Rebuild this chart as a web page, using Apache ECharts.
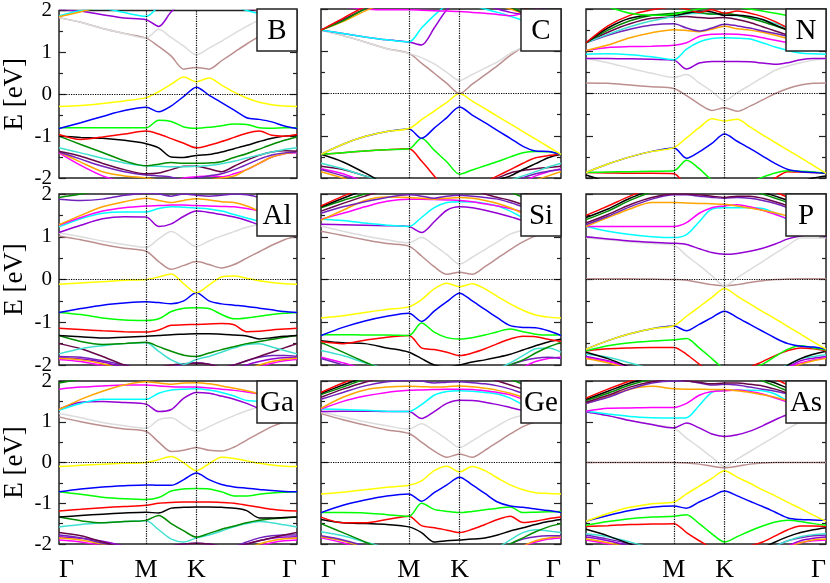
<!DOCTYPE html>
<html>
<head>
<meta charset="utf-8">
<script src="https://cdn.jsdelivr.net/npm/echarts@6/dist/echarts.min.js"></script>
<style>
  html, body { margin: 0; background: #fff; }
  #main { width: 830px; height: 583px; }
</style>
</head>
<body>
<div id="main"></div>
<script>
// k-path sample points: Γ -> M (1/√3), M -> K (+1/3), K -> Γ (+2/3)
const kGrid = [0, 0.1443, 0.2887, 0.4330, 0.5774, 0.6607, 0.7440, 0.8274, 0.9107,
  0.9940, 1.0774, 1.1607, 1.2440, 1.3274, 1.4107, 1.4940, 1.5774];
const kTicks = [0, 0.5774, 0.9107, 1.5774];
const kLabels = ['Γ', 'M', 'K', 'Γ'];
const panelNames = ['B', 'C', 'N', 'Al', 'Si', 'P', 'Ga', 'Ge', 'As'];

// bands per panel (eV at each kGrid point)
const bandsB = {
  magenta_lo: [-1.4,-1.7,-1.95,-2.1,-2.2,-2.2,-2.1,-2.0,-1.97,-1.95,-1.97,-1.9,-1.8,-1.65,-1.5,-1.42,-1.4],
  orange_lo: [-1.38,-1.62,-1.85,-1.95,-2.0,-2.05,-2.1,-2.1,-2.1,-2.05,-2.0,-1.95,-1.8,-1.65,-1.5,-1.42,-1.38],
  indigo_lo: [-1.38,-1.55,-1.72,-1.85,-1.93,-1.95,-1.98,-2.05,-2.0,-1.95,-1.9,-1.8,-1.68,-1.55,-1.45,-1.4,-1.38],
  maroon_lo: [-1.36,-1.48,-1.65,-1.8,-1.9,-1.88,-1.8,-1.72,-1.72,-1.78,-1.85,-1.72,-1.58,-1.46,-1.38,-1.35,-1.36],
  turq_lo: [-1.28,-1.4,-1.53,-1.64,-1.71,-1.72,-1.73,-1.73,-1.72,-1.7,-1.66,-1.6,-1.52,-1.45,-1.38,-1.32,-1.28],
  green4_lo: [-1.0,-1.2,-1.39,-1.59,-1.71,-1.67,-1.63,-1.65,-1.65,-1.64,-1.61,-1.51,-1.42,-1.31,-1.2,-1.1,-1.02],
  black: [-1.0,-1.03,-1.05,-1.1,-1.18,-1.28,-1.5,-1.51,-1.46,-1.44,-1.38,-1.3,-1.22,-1.13,-1.05,-1.0,-0.98],
  red: [-0.96,-1.08,-1.02,-0.95,-0.88,-0.95,-1.06,-1.17,-1.28,-1.22,-1.13,-1.03,-0.93,-0.88,-0.98,-1.0,-0.96],
  green: [-0.8,-0.8,-0.8,-0.8,-0.8,-0.62,-0.65,-0.78,-0.81,-0.79,-0.75,-0.71,-0.72,-0.8,-0.81,-0.8,-0.8],
  blue: [-0.82,-0.68,-0.53,-0.39,-0.31,-0.42,-0.28,-0.05,0.17,-0.02,-0.2,-0.38,-0.56,-0.6,-0.66,-0.76,-0.82],
  yellow: [-0.29,-0.27,-0.22,-0.16,-0.08,0.06,0.24,0.41,0.30,0.39,0.22,0.05,-0.09,-0.19,-0.25,-0.28,-0.29],
  brown: [1.83,1.72,1.57,1.45,1.34,1.14,0.91,0.6,0.64,0.6,0.8,1.0,1.2,1.38,1.55,1.72,1.83],
  grey: [1.83,1.72,1.57,1.45,1.34,1.55,1.35,1.15,0.94,1.1,1.27,1.45,1.62,1.77,1.83,1.84,1.83],
  violet: [2.03,1.98,1.9,1.82,1.78,1.62,1.97,2.2,2.4,2.3,2.2,2.1,2.05,2.0,1.95,1.9,1.85],
  cyan: [1.87,2.0,2.05,1.95,1.86,2.1,2.3,2.4,2.4,2.3,2.2,2.1,2.0,1.93,1.9,1.88,1.87],
  orange: [1.85,1.97,2.1,2.2,2.2,2.3,2.3,2.3,2.3,2.3,2.3,2.2,2.1,2.0,1.95,1.9,1.85]
};
const bandsC = {
  orange_lo: [-1.85,-2.0,-2.2,-2.3,-2.3,-2.3,-2.3,-2.3,-2.3,-2.3,-2.3,-2.3,-2.3,-2.2,-2.05,-1.95,-1.85],
  magenta_lo: [-1.78,-1.9,-2.1,-2.3,-2.3,-2.3,-2.3,-2.3,-2.3,-2.3,-2.3,-2.3,-2.3,-2.1,-1.95,-1.85,-1.78],
  indigo_lo: [-1.8,-1.95,-2.1,-2.3,-2.3,-2.3,-2.3,-2.3,-2.3,-2.3,-2.3,-2.3,-2.2,-2.0,-1.9,-1.84,-1.8],
  maroon_lo: [-1.72,-1.8,-1.95,-2.1,-2.2,-2.2,-2.2,-2.2,-2.2,-2.2,-2.1,-2.0,-1.88,-1.82,-1.78,-1.75,-1.72],
  turq_lo: [-1.65,-1.78,-1.95,-2.1,-2.3,-2.3,-2.3,-2.3,-2.3,-2.3,-2.3,-2.2,-2.05,-1.95,-1.85,-1.74,-1.65],
  black: [-1.44,-1.62,-1.88,-2.15,-2.3,-2.4,-2.5,-2.5,-2.5,-2.4,-2.2,-2.05,-1.95,-1.8,-1.66,-1.52,-1.44],
  red: [-1.44,-1.4,-1.36,-1.33,-1.31,-1.6,-1.95,-2.3,-2.5,-2.3,-2.1,-1.95,-1.8,-1.65,-1.52,-1.47,-1.44],
  green: [-1.44,-1.4,-1.36,-1.33,-1.31,-1.06,-1.34,-1.62,-1.91,-1.81,-1.71,-1.61,-1.5,-1.4,-1.37,-1.38,-1.44],
  blue: [-1.44,-1.2,-1.02,-0.9,-0.84,-1.06,-0.82,-0.57,-0.32,-0.51,-0.69,-0.88,-1.06,-1.25,-1.36,-1.37,-1.44],
  yellow: [-1.44,-1.2,-1.02,-0.9,-0.83,-0.62,-0.415,-0.21,0,-0.18,-0.36,-0.54,-0.72,-0.9,-1.08,-1.26,-1.44],
  brown: [1.5,1.37,1.22,1.06,0.95,0.72,0.48,0.24,0,0.22,0.44,0.66,0.9,1.1,1.25,1.38,1.5],
  grey: [1.5,1.37,1.22,1.06,0.95,0.85,0.7,0.5,0.31,0.45,0.6,0.75,0.95,1.1,1.25,1.38,1.5],
  violet: [1.5,1.42,1.34,1.27,1.22,1.15,1.55,1.98,2.2,2.2,2.1,2.0,1.92,1.88,1.95,2.05,2.2],
  cyan: [1.5,1.42,1.34,1.27,1.22,1.55,1.85,2.1,2.3,2.1,2.0,1.92,1.83,1.73,1.65,1.58,1.5],
  magenta: [2.1,2.05,2.0,1.98,1.98,1.97,1.96,1.95,1.94,1.92,1.9,1.87,1.84,1.9,2.0,2.1,2.2],
  orange: [1.5,1.7,1.95,2.15,2.2,2.2,2.2,2.2,2.2,2.2,2.2,2.1,2.0,1.9,1.78,1.65,1.5],
  maroon: [1.5,1.75,2.0,2.2,2.3,2.3,2.3,2.3,2.3,2.3,2.3,2.2,2.05,1.9,1.75,1.62,1.5],
  green4: [1.5,1.72,2.0,2.2,2.3,2.3,2.3,2.3,2.3,2.3,2.3,2.2,2.05,1.92,1.8,1.65,1.5],
  red_hi: [1.5,1.78,2.05,2.2,2.3,2.3,2.3,2.3,2.3,2.3,2.3,2.3,2.2,2.05,1.9,1.7,1.5]
};
const bandsN = {
  black: [-1.93,-2.1,-2.3,-2.4,-2.5,-2.5,-2.5,-2.5,-2.5,-2.5,-2.5,-2.5,-2.4,-2.3,-2.1,-2.0,-1.95],
  red: [-1.87,-1.88,-1.89,-1.89,-1.9,-2.2,-2.4,-2.5,-2.5,-2.5,-2.4,-2.2,-2.0,-1.85,-1.86,-1.87,-1.89],
  green: [-1.87,-1.86,-1.85,-1.84,-1.83,-1.58,-1.78,-2.05,-2.2,-2.2,-2.1,-1.98,-1.88,-1.83,-1.84,-1.86,-1.89],
  blue: [-1.87,-1.67,-1.5,-1.37,-1.29,-1.53,-1.38,-1.18,-0.96,-1.13,-1.3,-1.48,-1.66,-1.8,-1.85,-1.87,-1.89],
  yellow: [-1.87,-1.67,-1.5,-1.37,-1.28,-1.05,-0.81,-0.6,-0.65,-0.61,-0.79,-0.98,-1.16,-1.34,-1.52,-1.7,-1.89],
  brown: [0.25,0.24,0.2,0.16,0.12,-0.05,-0.25,-0.4,-0.34,-0.42,-0.3,-0.15,0.0,0.12,0.2,0.24,0.25],
  grey: [0.83,0.73,0.6,0.48,0.38,0.45,0.25,0.05,-0.17,0.02,0.2,0.38,0.55,0.65,0.73,0.79,0.83],
  violet: [0.83,0.83,0.82,0.81,0.79,0.58,0.72,0.76,0.76,0.76,0.75,0.72,0.69,0.73,0.8,0.83,0.83],
  cyan: [0.93,0.94,0.92,0.87,0.8,1.05,1.22,1.3,1.32,1.31,1.29,1.2,1.1,1.02,0.96,0.94,0.93],
  magenta: [1.02,1.09,1.11,1.12,1.14,1.2,1.35,1.4,1.41,1.4,1.37,1.32,1.26,1.2,1.14,1.08,1.02],
  orange: [1.02,1.15,1.32,1.44,1.51,1.49,1.46,1.52,1.59,1.53,1.5,1.45,1.38,1.3,1.2,1.12,1.02],
  indigo: [1.2,1.38,1.52,1.62,1.65,1.55,1.48,1.55,1.64,1.6,1.55,1.48,1.42,1.35,1.28,1.22,1.2],
  maroon: [1.2,1.45,1.65,1.78,1.81,1.82,1.8,1.78,1.8,1.75,1.68,1.58,1.48,1.38,1.3,1.24,1.2],
  turq: [1.2,1.4,1.58,1.72,1.82,1.88,1.9,1.88,1.86,1.84,1.8,1.74,1.66,1.55,1.45,1.32,1.2],
  green4: [1.2,1.5,1.72,1.85,1.9,1.93,1.92,1.88,1.9,1.85,1.78,1.7,1.6,1.5,1.4,1.28,1.2],
  black_hi: [1.2,1.55,1.78,1.85,1.85,1.9,1.95,1.93,1.85,1.85,1.82,1.75,1.62,1.5,1.4,1.28,1.2],
  red_hi: [1.2,1.6,1.85,1.98,2.05,2.0,1.92,1.98,1.9,1.95,1.9,1.82,1.7,1.55,1.4,1.28,1.2],
  green_hi: [2.2,2.05,1.9,1.85,1.87,1.95,2.0,2.05,2.1,2.05,2.0,1.95,1.9,1.85,1.85,1.9,2.0]
};
const bandsAl = {
  magenta_lo: [-1.87,-1.92,-2.02,-2.15,-2.2,-2.2,-2.2,-2.2,-2.2,-2.2,-2.2,-2.2,-2.15,-2.05,-1.96,-1.9,-1.87],
  orange_lo: [-1.84,-1.88,-1.97,-2.1,-2.2,-2.2,-2.2,-2.2,-2.2,-2.2,-2.2,-2.2,-2.1,-2.0,-1.92,-1.87,-1.84],
  violet_lo: [-1.83,-1.86,-1.93,-2.05,-2.15,-2.2,-2.2,-2.2,-2.2,-2.2,-2.2,-2.1,-2.0,-1.92,-1.86,-1.83,-1.83],
  indigo_lo: [-1.8,-1.82,-1.9,-2.0,-2.1,-2.1,-2.05,-1.98,-1.95,-1.98,-2.05,-2.0,-1.9,-1.82,-1.78,-1.78,-1.8],
  maroon_lo: [-1.5,-1.62,-1.8,-2.0,-2.1,-2.05,-2.0,-1.97,-1.96,-1.98,-2.05,-2.0,-1.9,-1.8,-1.7,-1.6,-1.5],
  turq_lo: [-1.74,-1.62,-1.55,-1.5,-1.48,-1.68,-1.88,-1.98,-1.87,-1.8,-1.7,-1.6,-1.52,-1.5,-1.58,-1.66,-1.74],
  green4_lo: [-1.31,-1.45,-1.52,-1.5,-1.47,-1.57,-1.68,-1.77,-1.8,-1.72,-1.64,-1.57,-1.5,-1.45,-1.4,-1.35,-1.31],
  black: [-1.31,-1.34,-1.37,-1.35,-1.33,-1.31,-1.29,-1.28,-1.27,-1.27,-1.28,-1.3,-1.32,-1.39,-1.36,-1.33,-1.31],
  red: [-1.14,-1.17,-1.2,-1.22,-1.23,-1.18,-1.07,-1.06,-1.05,-1.04,-1.03,-1.06,-1.22,-1.21,-1.18,-1.16,-1.14],
  green: [-0.77,-0.82,-0.9,-0.95,-0.96,-0.92,-0.75,-0.67,-0.66,-0.68,-0.82,-0.92,-0.9,-0.86,-0.82,-0.79,-0.77],
  blue: [-0.77,-0.68,-0.6,-0.55,-0.52,-0.54,-0.57,-0.5,-0.31,-0.5,-0.57,-0.6,-0.63,-0.67,-0.71,-0.75,-0.77],
  yellow: [-0.11,-0.08,-0.05,-0.02,0.0,0.06,0.13,-0.1,-0.31,-0.13,0.06,0.08,0.03,-0.03,-0.07,-0.1,-0.11],
  brown: [1.02,0.93,0.82,0.73,0.66,0.42,0.24,0.33,0.42,0.35,0.27,0.35,0.5,0.65,0.8,0.93,1.02],
  grey: [1.09,1.0,0.9,0.82,0.75,0.95,1.12,0.95,0.77,0.9,1.02,1.12,1.22,1.28,1.25,1.18,1.09],
  violet: [1.1,1.27,1.42,1.47,1.46,1.24,1.3,1.48,1.6,1.57,1.52,1.46,1.38,1.28,1.22,1.18,1.15],
  cyan: [1.23,1.42,1.55,1.58,1.58,1.66,1.7,1.69,1.67,1.65,1.6,1.52,1.44,1.36,1.3,1.26,1.23],
  magenta: [1.27,1.45,1.6,1.68,1.72,1.73,1.74,1.74,1.73,1.72,1.71,1.7,1.66,1.6,1.5,1.38,1.27],
  orange: [1.28,1.5,1.7,1.82,1.9,1.85,1.8,1.85,1.89,1.86,1.82,1.8,1.72,1.6,1.48,1.36,1.28],
  indigo: [1.88,1.85,1.88,1.97,2.02,2.0,1.95,2.0,1.97,1.95,1.97,2.0,1.98,1.92,1.85,1.86,1.88],
  green4: [1.92,2.0,2.1,2.2,2.3,2.3,2.3,2.3,2.3,2.3,2.3,2.3,2.2,2.1,2.0,1.95,1.92]
};
const bandsSi = {
  magenta_lo: [-1.82,-1.95,-2.1,-2.3,-2.3,-2.3,-2.3,-2.3,-2.3,-2.3,-2.3,-2.3,-2.2,-2.05,-1.92,-1.85,-1.82],
  indigo_lo: [-1.85,-2.0,-2.2,-2.3,-2.3,-2.3,-2.3,-2.3,-2.3,-2.3,-2.3,-2.2,-2.0,-1.9,-1.84,-1.82,-1.85],
  turq_lo: [-1.66,-1.78,-1.95,-2.1,-2.3,-2.3,-2.3,-2.3,-2.3,-2.3,-2.3,-2.1,-1.95,-1.78,-1.62,-1.6,-1.7],
  green4_lo: [-1.47,-1.7,-1.93,-2.15,-2.3,-2.3,-2.3,-2.3,-2.3,-2.3,-2.3,-2.2,-2.0,-1.88,-1.72,-1.58,-1.47],
  black: [-1.43,-1.48,-1.5,-1.6,-1.7,-1.85,-2.0,-2.05,-2.0,-1.93,-1.88,-1.82,-1.75,-1.65,-1.55,-1.46,-1.4],
  red: [-1.45,-1.5,-1.42,-1.35,-1.31,-1.6,-1.64,-1.7,-1.78,-1.72,-1.62,-1.5,-1.39,-1.33,-1.34,-1.4,-1.45],
  green: [-1.29,-1.29,-1.3,-1.3,-1.31,-1.02,-1.23,-1.36,-1.39,-1.36,-1.3,-1.22,-1.16,-1.22,-1.28,-1.3,-1.29],
  blue: [-1.31,-1.12,-0.97,-0.86,-0.79,-0.98,-0.74,-0.52,-0.32,-0.5,-0.7,-0.9,-1.08,-1.12,-1.13,-1.2,-1.31],
  yellow: [-0.9,-0.85,-0.77,-0.7,-0.64,-0.47,-0.22,-0.09,-0.17,-0.1,-0.22,-0.4,-0.57,-0.72,-0.83,-0.88,-0.9],
  brown: [1.13,1.03,0.93,0.84,0.78,0.55,0.3,0.12,0.17,0.12,0.3,0.5,0.7,0.88,1.02,1.1,1.13],
  grey: [1.25,1.13,1.02,0.93,0.86,0.98,0.8,0.58,0.36,0.52,0.7,0.88,1.06,1.15,1.2,1.23,1.25],
  violet: [1.29,1.28,1.27,1.26,1.24,1.1,1.35,1.62,1.7,1.68,1.62,1.55,1.47,1.38,1.32,1.3,1.29],
  cyan: [1.41,1.38,1.32,1.27,1.24,1.45,1.68,1.8,1.82,1.81,1.78,1.72,1.6,1.45,1.42,1.41,1.41],
  magenta: [1.41,1.55,1.7,1.83,1.88,1.88,1.87,1.86,1.85,1.82,1.77,1.72,1.66,1.58,1.5,1.45,1.41],
  orange: [1.39,1.62,1.85,1.93,1.92,1.9,1.88,1.9,1.92,1.9,1.85,1.78,1.68,1.55,1.45,1.4,1.39],
  indigo: [1.55,1.7,1.82,1.92,1.98,1.95,1.9,1.95,1.97,1.95,1.92,1.88,1.8,1.7,1.6,1.55,1.55],
  maroon: [1.6,1.78,1.95,2.1,2.2,2.2,2.2,2.2,2.2,2.1,2.0,1.92,1.85,1.75,1.68,1.62,1.6],
  green4: [1.68,1.85,2.0,2.15,2.3,2.3,2.3,2.3,2.3,2.3,2.3,2.2,2.05,1.92,1.8,1.72,1.68],
  black_hi: [1.7,1.9,2.1,2.3,2.3,2.3,2.3,2.3,2.3,2.3,2.3,2.3,2.2,2.05,1.9,1.78,1.7],
  red_hi: [1.72,1.95,2.15,2.3,2.3,2.3,2.3,2.3,2.3,2.3,2.3,2.3,2.3,2.1,1.95,1.82,1.72]
};
const bandsP = {
  magenta_lo: [-1.83,-1.92,-2.05,-2.2,-2.3,-2.3,-2.3,-2.3,-2.3,-2.3,-2.3,-2.3,-2.2,-2.05,-1.95,-1.88,-1.83],
  orange_lo: [-1.85,-1.95,-2.1,-2.3,-2.3,-2.3,-2.3,-2.3,-2.3,-2.3,-2.3,-2.3,-2.2,-2.1,-1.98,-1.9,-1.85],
  violet_lo: [-1.8,-1.9,-2.05,-2.2,-2.3,-2.3,-2.3,-2.3,-2.3,-2.3,-2.3,-2.3,-2.2,-2.05,-1.9,-1.84,-1.8],
  turq_lo: [-1.75,-1.82,-1.95,-2.1,-2.3,-2.3,-2.3,-2.3,-2.3,-2.3,-2.3,-2.2,-2.1,-2.0,-1.85,-1.8,-1.76],
  black: [-1.7,-1.85,-2.05,-2.2,-2.3,-2.3,-2.3,-2.3,-2.3,-2.3,-2.3,-2.3,-2.2,-2.0,-1.85,-1.75,-1.68],
  red: [-1.67,-1.62,-1.6,-1.59,-1.59,-1.75,-1.98,-2.2,-2.3,-2.2,-2.05,-1.92,-1.78,-1.66,-1.6,-1.62,-1.67],
  green: [-1.67,-1.55,-1.48,-1.44,-1.41,-1.38,-1.6,-1.85,-2.1,-2.2,-2.1,-1.98,-1.8,-1.63,-1.55,-1.6,-1.65],
  blue: [-1.63,-1.43,-1.27,-1.15,-1.09,-1.2,-1.05,-0.89,-0.74,-0.89,-1.05,-1.21,-1.37,-1.5,-1.56,-1.58,-1.63],
  yellow: [-1.63,-1.43,-1.27,-1.15,-1.08,-0.86,-0.64,-0.42,-0.21,-0.39,-0.57,-0.75,-0.92,-1.1,-1.28,-1.46,-1.63],
  brown: [0.02,0.02,0.02,0.01,0.0,-0.02,-0.07,-0.12,-0.15,-0.12,-0.07,-0.03,0.0,0.01,0.02,0.02,0.02],
  grey: [0.97,0.93,0.88,0.84,0.8,0.56,0.33,0.09,-0.15,0.04,0.23,0.42,0.61,0.8,0.97,0.97,0.97],
  violet: [1.0,0.95,0.9,0.87,0.85,0.82,0.72,0.63,0.59,0.61,0.66,0.73,0.83,0.95,1.02,1.05,1.0],
  cyan: [1.24,1.13,1.05,1.0,0.98,1.05,1.35,1.65,1.68,1.68,1.68,1.66,1.55,1.4,1.3,1.26,1.24],
  magenta: [1.24,1.24,1.24,1.24,1.24,1.33,1.55,1.68,1.72,1.75,1.7,1.62,1.52,1.42,1.33,1.27,1.24],
  orange: [1.24,1.45,1.65,1.8,1.8,1.79,1.78,1.77,1.76,1.72,1.67,1.62,1.56,1.48,1.4,1.32,1.24],
  indigo: [1.28,1.48,1.7,1.88,1.98,1.98,1.95,1.92,1.9,1.92,1.9,1.85,1.78,1.68,1.55,1.4,1.28],
  maroon: [1.32,1.52,1.75,1.92,2.0,2.0,1.98,1.95,1.92,1.95,1.95,1.9,1.82,1.72,1.58,1.45,1.32],
  green4: [1.4,1.6,1.85,2.05,2.2,2.2,2.2,2.2,2.2,2.2,2.1,2.0,1.9,1.8,1.7,1.55,1.4],
  black_hi: [1.45,1.65,1.9,2.1,2.3,2.3,2.3,2.3,2.3,2.3,2.2,2.05,1.95,1.85,1.72,1.58,1.45],
  red_hi: [1.5,1.72,1.95,2.15,2.3,2.3,2.3,2.3,2.3,2.3,2.3,2.2,2.05,1.92,1.78,1.62,1.5]
};
const bandsGa = {
  magenta_lo: [-1.9,-1.95,-2.05,-2.2,-2.2,-2.2,-2.2,-2.2,-2.2,-2.2,-2.2,-2.2,-2.15,-2.05,-1.97,-1.92,-1.9],
  orange_lo: [-1.85,-1.9,-2.0,-2.1,-2.2,-2.2,-2.2,-2.2,-2.2,-2.2,-2.2,-2.2,-2.1,-2.0,-1.92,-1.87,-1.85],
  violet_lo: [-1.82,-1.86,-1.93,-2.05,-2.15,-2.2,-2.2,-2.2,-2.2,-2.2,-2.2,-2.1,-2.0,-1.92,-1.86,-1.83,-1.82],
  indigo_lo: [-1.78,-1.85,-1.98,-2.1,-2.15,-2.1,-2.05,-2.0,-1.98,-2.0,-2.05,-2.05,-1.95,-1.85,-1.8,-1.78,-1.78],
  maroon_lo: [-1.72,-1.8,-1.95,-2.1,-2.2,-2.15,-2.05,-2.0,-1.98,-2.0,-2.05,-2.05,-2.0,-1.92,-1.85,-1.78,-1.72],
  turq_lo: [-1.58,-1.52,-1.48,-1.45,-1.43,-1.65,-1.88,-1.95,-1.85,-1.78,-1.68,-1.58,-1.5,-1.45,-1.48,-1.53,-1.58],
  green4_lo: [-1.34,-1.43,-1.48,-1.45,-1.42,-1.3,-1.5,-1.68,-1.83,-1.74,-1.64,-1.56,-1.48,-1.42,-1.38,-1.36,-1.34],
  black: [-1.34,-1.3,-1.27,-1.24,-1.22,-1.24,-1.12,-1.1,-1.09,-1.09,-1.1,-1.12,-1.18,-1.36,-1.36,-1.35,-1.34],
  red: [-1.19,-1.15,-1.11,-1.08,-1.05,-1.0,-0.98,-0.97,-0.97,-0.97,-0.98,-1.0,-1.05,-1.1,-1.15,-1.18,-1.19],
  green: [-0.72,-0.78,-0.85,-0.89,-0.91,-0.86,-0.7,-0.65,-0.64,-0.65,-0.72,-0.82,-0.82,-0.78,-0.75,-0.73,-0.72],
  blue: [-0.72,-0.65,-0.6,-0.57,-0.55,-0.56,-0.56,-0.42,-0.26,-0.42,-0.54,-0.6,-0.63,-0.66,-0.69,-0.71,-0.72],
  yellow: [-0.1,-0.07,-0.04,-0.02,0.0,0.07,0.15,-0.01,-0.2,-0.03,0.13,0.1,0.04,-0.02,-0.06,-0.09,-0.1],
  brown: [1.12,1.0,0.9,0.82,0.76,0.5,0.27,0.3,0.37,0.3,0.28,0.38,0.55,0.72,0.88,1.0,1.1],
  grey: [1.2,1.1,0.98,0.9,0.84,1.05,1.1,0.92,0.76,0.88,1.02,1.15,1.27,1.35,1.33,1.28,1.2],
  violet: [1.31,1.48,1.5,1.47,1.43,1.25,1.3,1.58,1.72,1.7,1.63,1.55,1.45,1.33,1.3,1.3,1.31],
  cyan: [1.28,1.45,1.55,1.55,1.55,1.7,1.78,1.8,1.81,1.78,1.72,1.63,1.52,1.5,1.4,1.34,1.28],
  magenta: [1.8,1.85,1.88,1.9,1.9,1.88,1.86,1.85,1.85,1.83,1.8,1.77,1.73,1.68,1.62,1.55,1.5],
  orange: [1.3,1.55,1.75,1.9,1.98,1.95,1.92,1.95,1.96,1.93,1.88,1.82,1.76,1.68,1.58,1.45,1.3],
  green4: [1.95,2.05,2.15,2.3,2.3,2.3,2.3,2.3,2.3,2.3,2.3,2.3,2.2,2.1,2.0,1.97,1.95]
};
const bandsGe = {
  magenta_lo: [-1.85,-1.97,-2.15,-2.3,-2.3,-2.3,-2.3,-2.3,-2.3,-2.3,-2.3,-2.3,-2.2,-2.05,-1.95,-1.88,-1.85],
  orange_lo: [-1.82,-1.92,-2.1,-2.3,-2.3,-2.3,-2.3,-2.3,-2.3,-2.3,-2.3,-2.3,-2.2,-2.05,-1.92,-1.85,-1.82],
  indigo_lo: [-1.8,-1.9,-2.05,-2.2,-2.3,-2.3,-2.3,-2.3,-2.3,-2.3,-2.3,-2.2,-2.0,-1.88,-1.82,-1.8,-1.8],
  turq_lo: [-1.7,-1.8,-1.95,-2.1,-2.3,-2.3,-2.3,-2.3,-2.3,-2.3,-2.3,-2.1,-1.9,-1.72,-1.65,-1.68,-1.72],
  green4_lo: [-1.5,-1.72,-1.95,-2.15,-2.3,-2.3,-2.3,-2.3,-2.3,-2.3,-2.3,-2.2,-2.0,-1.85,-1.7,-1.58,-1.5],
  black: [-1.4,-1.48,-1.5,-1.52,-1.58,-1.72,-1.95,-1.92,-1.9,-1.88,-1.85,-1.78,-1.68,-1.6,-1.52,-1.45,-1.4],
  red: [-1.34,-1.48,-1.48,-1.4,-1.32,-1.55,-1.6,-1.66,-1.72,-1.64,-1.52,-1.4,-1.32,-1.47,-1.44,-1.38,-1.34],
  green: [-1.23,-1.23,-1.24,-1.28,-1.32,-1.0,-1.15,-1.2,-1.23,-1.2,-1.16,-1.12,-1.09,-1.23,-1.22,-1.21,-1.2],
  blue: [-1.23,-1.05,-0.92,-0.82,-0.77,-0.95,-0.74,-0.55,-0.36,-0.55,-0.76,-0.97,-1.07,-1.1,-1.14,-1.18,-1.23],
  yellow: [-0.77,-0.73,-0.67,-0.61,-0.56,-0.45,-0.2,-0.09,-0.23,-0.1,-0.2,-0.38,-0.55,-0.67,-0.74,-0.76,-0.77],
  brown: [1.2,1.05,0.92,0.8,0.71,0.5,0.28,0.13,0.21,0.13,0.3,0.5,0.7,0.88,1.0,1.08,1.15],
  grey: [1.24,1.12,1.0,0.9,0.82,0.95,0.78,0.57,0.37,0.53,0.72,0.9,1.07,1.16,1.2,1.22,1.24],
  violet: [1.25,1.26,1.26,1.25,1.25,1.08,1.25,1.45,1.53,1.52,1.48,1.42,1.35,1.28,1.26,1.25,1.25],
  cyan: [1.31,1.3,1.28,1.26,1.25,1.42,1.65,1.74,1.76,1.75,1.72,1.68,1.58,1.42,1.35,1.32,1.31],
  magenta: [1.31,1.5,1.63,1.72,1.77,1.78,1.79,1.8,1.8,1.79,1.76,1.72,1.66,1.55,1.45,1.38,1.31],
  orange: [1.33,1.6,1.78,1.85,1.87,1.86,1.85,1.86,1.88,1.86,1.82,1.77,1.7,1.6,1.5,1.42,1.33],
  indigo: [1.55,1.72,1.88,1.98,2.02,2.0,1.95,1.97,1.98,1.96,1.93,1.88,1.8,1.7,1.62,1.57,1.55],
  maroon: [1.6,1.8,1.97,2.1,2.2,2.2,2.2,2.2,2.2,2.2,2.1,2.0,1.9,1.8,1.7,1.64,1.6],
  green4: [1.67,1.85,2.05,2.2,2.3,2.3,2.3,2.3,2.3,2.3,2.3,2.2,2.05,1.92,1.8,1.72,1.67],
  black_hi: [1.7,1.9,2.1,2.3,2.3,2.3,2.3,2.3,2.3,2.3,2.3,2.3,2.2,2.05,1.9,1.78,1.7],
  red_hi: [1.72,1.95,2.15,2.3,2.3,2.3,2.3,2.3,2.3,2.3,2.3,2.3,2.3,2.1,1.95,1.82,1.72]
};
const bandsAs = {
  magenta_lo: [-1.9,-2.0,-2.15,-2.3,-2.3,-2.3,-2.3,-2.3,-2.3,-2.3,-2.3,-2.3,-2.2,-2.05,-1.97,-1.92,-1.9],
  orange_lo: [-1.88,-1.97,-2.1,-2.3,-2.3,-2.3,-2.3,-2.3,-2.3,-2.3,-2.3,-2.3,-2.2,-2.08,-1.97,-1.9,-1.88],
  violet_lo: [-1.83,-1.92,-2.05,-2.2,-2.3,-2.3,-2.3,-2.3,-2.3,-2.3,-2.3,-2.3,-2.2,-2.05,-1.92,-1.86,-1.83],
  indigo_lo: [-1.78,-1.88,-2.0,-2.15,-2.3,-2.3,-2.3,-2.3,-2.3,-2.3,-2.3,-2.2,-2.05,-1.92,-1.85,-1.8,-1.78],
  turq_lo: [-1.75,-1.82,-1.95,-2.1,-2.3,-2.3,-2.3,-2.3,-2.3,-2.3,-2.3,-2.2,-2.05,-1.92,-1.82,-1.77,-1.75],
  black: [-1.64,-1.8,-2.0,-2.2,-2.3,-2.4,-2.5,-2.5,-2.5,-2.45,-2.3,-2.1,-1.95,-1.82,-1.72,-1.65,-1.6],
  red: [-1.57,-1.55,-1.52,-1.51,-1.5,-1.72,-1.92,-2.1,-2.2,-2.15,-2.05,-1.95,-1.8,-1.65,-1.56,-1.56,-1.57],
  green: [-1.54,-1.45,-1.38,-1.34,-1.32,-1.28,-1.5,-1.75,-1.95,-1.82,-1.68,-1.56,-1.46,-1.42,-1.45,-1.5,-1.54],
  blue: [-1.44,-1.3,-1.18,-1.1,-1.07,-1.12,-0.97,-0.83,-0.7,-0.82,-0.95,-1.08,-1.22,-1.36,-1.4,-1.41,-1.42],
  yellow: [-1.44,-1.25,-1.1,-1.01,-0.97,-0.77,-0.58,-0.39,-0.2,-0.36,-0.51,-0.67,-0.82,-0.98,-1.13,-1.29,-1.44],
  brown: [0.0,0.0,0.0,0.0,0.0,-0.01,-0.04,-0.09,-0.13,-0.09,-0.04,-0.01,0.0,0.0,0.0,0.0,0.0],
  grey: [1.24,1.15,1.03,0.93,0.84,0.6,0.37,0.13,-0.1,0.085,0.27,0.455,0.64,0.83,1.0,1.12,1.24],
  violet: [1.24,1.15,1.03,0.93,0.85,0.97,0.85,0.7,0.64,0.68,0.77,0.9,1.05,1.18,1.22,1.24,1.24],
  cyan: [1.26,1.19,1.13,1.1,1.09,1.1,1.4,1.72,1.77,1.77,1.77,1.76,1.68,1.5,1.38,1.3,1.26],
  magenta: [1.26,1.33,1.34,1.35,1.35,1.45,1.65,1.74,1.76,1.78,1.74,1.68,1.58,1.48,1.38,1.3,1.26],
  orange: [1.45,1.62,1.8,1.87,1.81,1.8,1.8,1.79,1.79,1.76,1.72,1.66,1.6,1.52,1.46,1.45,1.45],
  indigo: [1.45,1.6,1.8,1.95,2.0,2.0,1.95,1.9,1.92,1.9,1.85,1.8,1.75,1.68,1.55,1.48,1.45],
  maroon: [1.48,1.65,1.85,1.98,2.05,2.0,1.97,1.93,1.95,1.95,1.92,1.88,1.8,1.7,1.6,1.52,1.48],
  green4: [1.52,1.7,1.9,2.05,2.2,2.2,2.2,2.2,2.2,2.2,2.1,2.0,1.88,1.75,1.62,1.55,1.52],
  black_hi: [1.55,1.75,1.95,2.1,2.3,2.3,2.3,2.3,2.3,2.3,2.2,2.05,1.95,1.82,1.7,1.6,1.55],
  red_hi: [1.58,1.8,2.0,2.15,2.3,2.3,2.3,2.3,2.3,2.3,2.3,2.2,2.05,1.9,1.75,1.65,1.58]
};
const panelBands = [bandsB, bandsC, bandsN, bandsAl, bandsSi, bandsP, bandsGa, bandsGe, bandsAs];

// xmgrace-like palette
const palette = {
  black: '#000000', red: '#ff0000', green: '#00ff00', blue: '#0000ff', yellow: '#ffff00',
  brown: '#bc8f8f', grey: '#dcdcdc', violet: '#9400d3', cyan: '#00ffff', magenta: '#ff00ff',
  orange: '#ffa500', indigo: '#7221bc', maroon: '#670748', turq: '#40e0d0', green4: '#008b00'
};
const drawOrder = ['violet_lo', 'magenta_lo', 'orange_lo', 'indigo_lo', 'maroon_lo', 'turq_lo', 'green4_lo',
  'black', 'red', 'green', 'blue', 'yellow', 'brown', 'grey', 'violet', 'cyan', 'magenta', 'orange',
  'indigo', 'maroon', 'turq', 'green4', 'black_hi', 'red_hi', 'green_hi'];

const colLeft = [57, 321, 586];
const rowTop = [9, 194, 381];
const rowH = [169, 171, 169];
const plotW = 240;
const serif = 'Liberation Serif';

const grids = [], xAxes = [], yAxes = [], series = [], graphics = [];
panelNames.forEach((name, i) => {
  const r = Math.floor(i / 3), c = i % 3;
  grids.push({ left: colLeft[c], top: rowTop[r], width: plotW, height: rowH[r],
    show: true, borderColor: '#222', borderWidth: 1.5, backgroundColor: '#fff' });
  xAxes.push({
    gridIndex: i, type: 'value', min: 0, max: kTicks[3],
    axisLine: { show: false }, axisTick: { show: false }, splitLine: { show: false },
    axisLabel: {
      show: r === 2, customValues: kTicks, margin: 13,
      alignMinLabel: 'left', alignMaxLabel: 'right',
      fontFamily: serif, fontSize: 26, color: '#000',
      formatter: v => kLabels[kTicks.findIndex(t => Math.abs(t - v) < 1e-4)] || ''
    }
  });
  const yBase = {
    gridIndex: i, type: 'value', min: -2, max: 2, interval: 1,
    axisLine: { show: false }, splitLine: { show: false },
    axisTick: { inside: true, length: 7, lineStyle: { color: '#222', width: 1.2 } },
    minorTick: { show: true, splitNumber: 2, length: 4, lineStyle: { color: '#222', width: 1.2 } }
  };
  yAxes.push(Object.assign({}, yBase, {
    position: 'left',
    axisLabel: { show: c === 0, margin: 7, fontFamily: serif, fontSize: 21, color: '#000' },
    name: c === 0 ? 'E [eV]' : '', nameLocation: 'middle', nameGap: 31,
    nameTextStyle: { fontFamily: serif, fontSize: 27, color: '#000' }
  }));
  yAxes.push(Object.assign({}, yBase, { position: 'right', axisLabel: { show: false } }));

  const bands = panelBands[i];
  drawOrder.forEach(key => {
    if (!bands[key]) return;
    series.push({
      type: 'line', xAxisIndex: i, yAxisIndex: 2 * i,
      data: kGrid.map((k, j) => [k, bands[key][j]]),
      showSymbol: false, smooth: 0.3, clip: true, silent: true,
      lineStyle: { color: palette[key.split('_')[0]], width: 1.5 }
    });
  });
  series.push({
    type: 'line', xAxisIndex: i, yAxisIndex: 2 * i, data: [], z: 5, silent: true,
    markLine: {
      symbol: ['none', 'none'], silent: true, label: { show: false },
      lineStyle: { type: 'dotted', color: '#000', width: 1.2 },
      data: [{ xAxis: kTicks[1] }, { xAxis: kTicks[2] }, { yAxis: 0 }]
    }
  });

  const bx = colLeft[c] + plotW - 40, by = rowTop[r];
  graphics.push({ type: 'rect', z: 100, shape: { x: bx, y: by, width: 40, height: 42 },
    style: { fill: '#fff', stroke: '#222', lineWidth: 1.5 } });
  graphics.push({ type: 'text', z: 101, x: bx + 20, y: by + 22,
    style: { text: name, fontFamily: serif, fontSize: 29, fill: '#000', align: 'center', verticalAlign: 'middle' } });
});

const chart = echarts.init(document.getElementById('main'), null, { renderer: 'canvas' });
chart.setOption({
  animation: false,
  backgroundColor: '#fff',
  grid: grids, xAxis: xAxes, yAxis: yAxes, series: series, graphic: graphics
});
</script>
</body>
</html>
